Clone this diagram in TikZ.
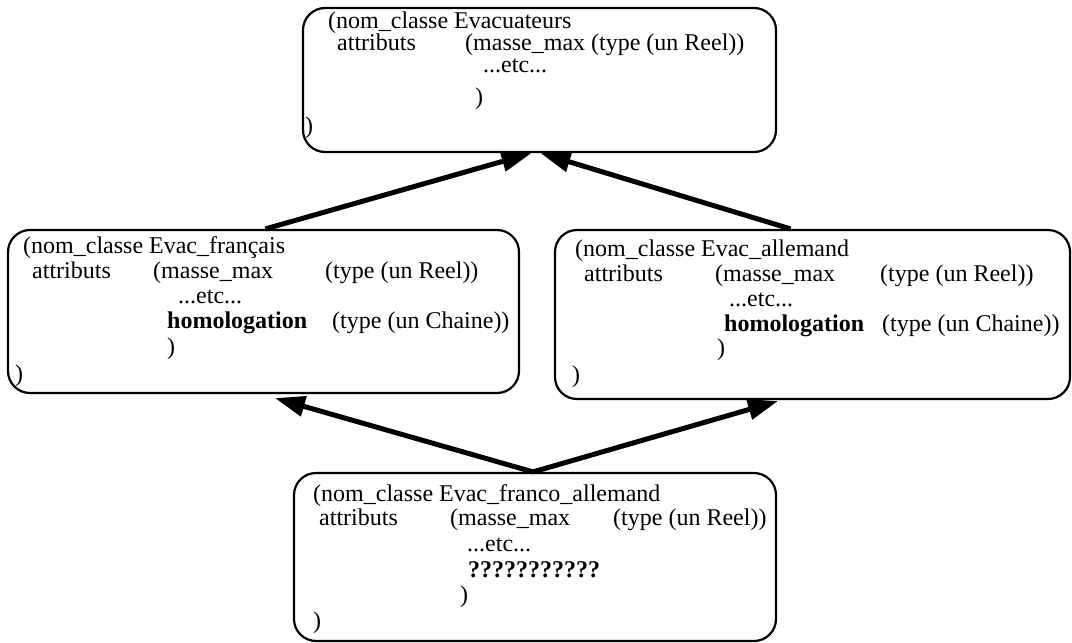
\documentclass[tikz,border=0pt]{standalone}
\usepackage{fontspec}
\setmainfont{Liberation Serif}
\usetikzlibrary{arrows.meta}
\begin{document}
\begin{tikzpicture}[x=1pt,y=-1pt,
  box/.style={draw, line width=2.2pt, rounded corners=22pt, inner sep=0pt},
  txt/.style={anchor=base west, inner sep=0pt, font=\fontsize{24}{25}\selectfont},
  arr/.style={line width=5pt, -{Triangle[length=30pt,width=20pt]}}]
\useasboundingbox (0,0) rectangle (1072,643);

% boxes
\node[box, minimum width=473pt, minimum height=144pt] (T) at (539.5,80) {};
\node[box, minimum width=511pt, minimum height=163pt] (L) at (263.5,311.5) {};
\node[box, minimum width=515pt, minimum height=169pt] (R) at (812.5,314.5) {};
\node[box, minimum width=482pt, minimum height=168pt] (B) at (535,557) {};

% top box text
\node[txt] (t1) at (328,28) {(nom\_classe Evacuateurs};
\node[txt] (t2) at (337,50) {attributs};
\node[txt] (t3) at (465,50) {(masse\_max (type (un Reel))};
\node[txt] (t4) at (483,72) {...etc...};
\node[txt] (t5) at (475,104) {)};
\node[txt] (t6) at (305,133) {)};

% left box text
\node[txt] (l1) at (23,253) {(nom\_classe Evac\_français};
\node[txt] (l2) at (32,278) {attributs};
\node[txt] (l3) at (153,278) {(masse\_max};
\node[txt] (l4) at (325,278) {(type (un Reel))};
\node[txt] (l5) at (178,303) {...etc...};
\node[txt] (l6) at (167,328) {\textbf{homologation}};
\node[txt] (l7) at (332,328) {(type (un Chaine))};
\node[txt] (l8) at (167,354) {)};
\node[txt] (l9) at (15,381) {)};

% right box text
\node[txt] (r1) at (575,256) {(nom\_classe Evac\_allemand};
\node[txt] (r2) at (584,281) {attributs};
\node[txt] (r3) at (715,281) {(masse\_max};
\node[txt] (r4) at (880,281) {(type (un Reel))};
\node[txt] (r5) at (729,306) {...etc...};
\node[txt] (r6) at (724,331) {\textbf{homologation}};
\node[txt] (r7) at (882,331) {(type (un Chaine))};
\node[txt] (r8) at (717,355) {)};
\node[txt] (r9) at (572,382) {)};

% bottom box text
\node[txt] (b1) at (313,501) {(nom\_classe Evac\_franco\_allemand};
\node[txt] (b2) at (319,525) {attributs};
\node[txt] (b3) at (450,525) {(masse\_max};
\node[txt] (b4) at (613,525) {(type (un Reel))};
\node[txt] (b5) at (467,551) {...etc...};
\node[txt] (b6) at (468,577) {\textbf{???????????}};
\node[txt] (b7) at (460,602) {)};
\node[txt] (b8) at (313,628) {)};

% arrows
\draw[arr] ([xshift=2pt]L.north) -- ([xshift=-8pt]T.south);
\draw[arr] ([xshift=-22pt]R.north) -- ([xshift=1pt]T.south);
\draw[arr] ([xshift=-2pt]B.north) -- ([xshift=11.5pt,yshift=-4pt]L.south);
\draw[arr] ([xshift=-2pt]B.north) -- ([xshift=-34.5pt,yshift=-1pt]R.south);
\end{tikzpicture}
\end{document}
